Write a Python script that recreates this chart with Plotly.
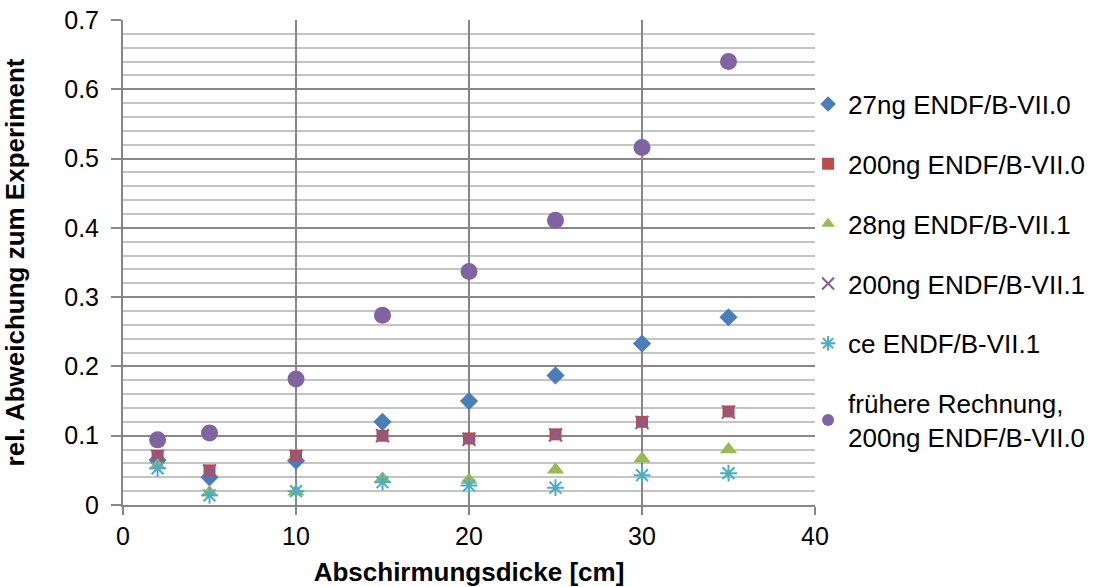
import plotly.graph_objects as go

x_vals = [2, 5, 10, 15, 20, 25, 30, 35]

s27_70 = [0.065, 0.040, 0.064, 0.120, 0.150, 0.187, 0.233, 0.271]
s200_70 = [0.071, 0.050, 0.071, 0.100, 0.096, 0.102, 0.120, 0.135]
s28_71 = [0.057, 0.018, 0.019, 0.038, 0.036, 0.051, 0.067, 0.080]
s200_71 = [0.070, 0.049, 0.070, 0.100, 0.095, 0.101, 0.119, 0.134]
ce_71 = [0.053, 0.014, 0.020, 0.033, 0.028, 0.025, 0.043, 0.046]
frueher = [0.094, 0.104, 0.182, 0.274, 0.337, 0.411, 0.516, 0.640]

names = ["27ng ENDF/B-VII.0", "200ng ENDF/B-VII.0", "28ng ENDF/B-VII.1",
         "200ng ENDF/B-VII.1", "ce ENDF/B-VII.1",
         "frühere Rechnung,<br>200ng ENDF/B-VII.0"]

series = [s27_70, s200_70, s28_71, s200_71, ce_71, frueher]
symbols = ["diamond", "square", "triangle-up", "x-thin-open", "asterisk-open", "circle"]
colors = ["#4A7EBB", "#BE4B48", "#98B954", "#7D60A0", "#4BACC6", "#8064A2"]
sizes = [14, 12, 15, 13, 14, 17]

fig = go.Figure()
for i, (nm, ys) in enumerate(zip(names, series)):
    open_sym = symbols[i].endswith("open")
    fig.add_trace(go.Scatter(
        x=x_vals, y=ys, mode="markers", name=nm, legendgroup=str(i),
        marker=dict(symbol=symbols[i], size=sizes[i], color=colors[i],
                    line=dict(width=2 if open_sym else 0, color=colors[i])),
    ))

font_family = "Liberation Sans, Arial, sans-serif"

fig.update_layout(
    width=1093, height=587,
    margin=dict(l=123, r=278, t=20, b=82, autoexpand=False),
    paper_bgcolor="white", plot_bgcolor="white",
    font=dict(family=font_family, size=25, color="#000000"),
    legend=dict(x=0.99, y=0.875, xanchor="left", yanchor="top",
                font=dict(size=26, family=font_family),
                tracegroupgap=23, itemwidth=30, itemsizing="constant",
                bgcolor="rgba(0,0,0,0)"),
    xaxis=dict(range=[0, 40], dtick=10, showgrid=True, gridcolor="#878787", gridwidth=2,
               showline=True, linecolor="#878787", linewidth=2,
               ticks="outside", ticklen=8, tickcolor="#878787", tickwidth=2,
               zeroline=False, automargin=False,
               tickfont=dict(size=25, color="#000000"),
               title=dict(text="<b>Abschirmungsdicke [cm]</b>",
                          font=dict(size=26, family=font_family), standoff=16)),
    yaxis=dict(range=[0, 0.7], dtick=0.1, showgrid=True, gridcolor="#878787", gridwidth=2,
               minor=dict(dtick=0.02, showgrid=True, gridcolor="#C4C4C4", gridwidth=2),
               showline=True, linecolor="#878787", linewidth=2,
               ticks="outside", ticklen=10, tickcolor="#878787", tickwidth=2,
               ticklabelstandoff=7,
               zeroline=False, automargin=False,
               tickfont=dict(size=25, color="#000000"),
               title=dict(text="<b>rel. Abweichung zum Experiment</b>",
                          font=dict(size=26, family=font_family), standoff=34)),
    showlegend=True,
)

fig.write_html("out.html")
